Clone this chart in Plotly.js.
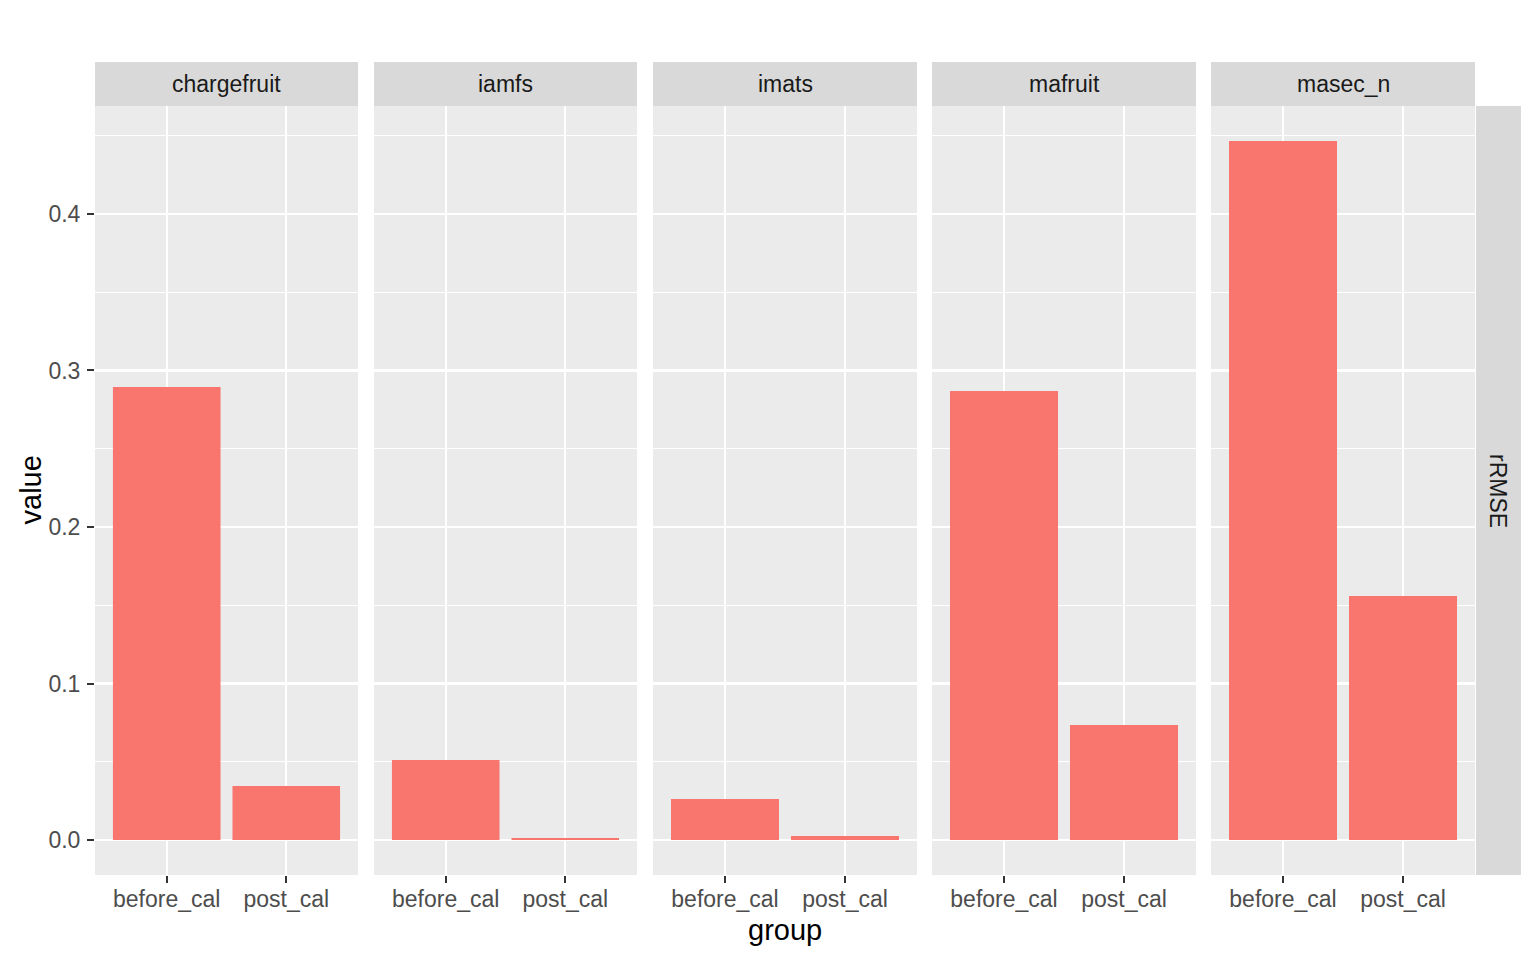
<!DOCTYPE html>
<html>
<head>
<meta charset="utf-8">
<script src="https://cdn.plot.ly/plotly-3.0.1.min.js"></script>
<style>html,body{margin:0;padding:0;background:#fff;}#chart{width:1536px;height:960px;}</style>
</head>
<body>
<div id="chart"></div>
<script>
const facets = ['chargefruit', 'iamfs', 'imats', 'mafruit', 'masec_n'];
const groups = ['before_cal', 'post_cal'];
const beforeCal = [0.2894, 0.0511, 0.0262, 0.2869, 0.4466];
const postCal = [0.0345, 0.0013, 0.0026, 0.0735, 0.1559];
const rowLabel = 'rRMSE';
const yTickVals = [0.0, 0.1, 0.2, 0.3, 0.4];
const yTickText = ['0.0', '0.1', '0.2', '0.3', '0.4'];

const W = 1536, H = 960;
const M = {l: 95, r: 61, t: 106, b: 85};
const PW = W - M.l - M.r, PH = H - M.t - M.b;
const panelPx = [[95, 358], [374, 637], [653, 917], [932, 1196], [1211, 1475]];
const domains = panelPx.map(p => [(p[0] - M.l) / PW, (p[1] - M.l) / PW]);

const FONT = 'Liberation Sans, Arial, Helvetica, sans-serif';
const BAR = '#F8766D';
const TICKSIZE = 23;
const TITLESIZE = 29;

const traces = facets.map((f, i) => ({
  type: 'bar',
  x: groups,
  y: [beforeCal[i], postCal[i]],
  xaxis: i === 0 ? 'x' : 'x' + (i + 1),
  yaxis: 'y',
  width: 0.9,
  marker: {color: BAR, line: {width: 0}},
  hoverinfo: 'x+y',
  showlegend: false
}));

const yMax = Math.max(...beforeCal, ...postCal);
const yRange = [-0.05 * yMax, yMax * 1.05];

const layout = {
  width: W, height: H,
  margin: M,
  paper_bgcolor: '#FFFFFF',
  plot_bgcolor: '#EBEBEB',
  showlegend: false,
  font: {family: FONT, size: TICKSIZE, color: '#4D4D4D'},
  yaxis: {
    range: yRange,
    anchor: 'x',
    tickvals: yTickVals,
    ticktext: yTickText,
    ticks: 'outside', ticklen: 7, tickwidth: 2, tickcolor: '#333333',
    tickfont: {family: FONT, size: TICKSIZE, color: '#4D4D4D'},
    ticklabelstandoff: 2,
    showgrid: true, gridcolor: '#FFFFFF', gridwidth: 2.2,
    minor: {dtick: 0.05, tick0: 0.05, showgrid: true, gridcolor: '#FFFFFF', gridwidth: 1.1, ticks: ''},
    zeroline: false, showline: false
  },
  shapes: [],
  annotations: []
};

facets.forEach((f, i) => {
  const key = i === 0 ? 'xaxis' : 'xaxis' + (i + 1);
  layout[key] = {
    domain: domains[i],
    anchor: 'y',
    type: 'category',
    range: [-0.6, 1.6],
    ticks: 'outside', ticklen: 7, tickwidth: 2, tickcolor: '#333333',
    tickfont: {family: FONT, size: TICKSIZE, color: '#4D4D4D'},
    ticklabelstandoff: -4,
    showgrid: true, gridcolor: '#FFFFFF', gridwidth: 2.2,
    zeroline: false, showline: false
  };
  layout.shapes.push({
    type: 'rect', xref: 'paper', yref: 'paper',
    x0: domains[i][0], x1: domains[i][1],
    y0: 1, y1: 1 + 44 / PH,
    fillcolor: '#D9D9D9', line: {width: 0}, layer: 'below'
  });
  layout.annotations.push({
    xref: 'paper', yref: 'paper',
    x: (domains[i][0] + domains[i][1]) / 2, y: 1 + 22 / PH,
    xanchor: 'center', yanchor: 'middle',
    text: f, showarrow: false,
    font: {family: FONT, size: TICKSIZE, color: '#1A1A1A'}
  });
});

// right strip
layout.shapes.push({
  type: 'rect', xref: 'paper', yref: 'paper',
  x0: 1 + 1 / PW, x1: 1 + 46 / PW, y0: 0, y1: 1,
  fillcolor: '#D9D9D9', line: {width: 0}, layer: 'below'
});
layout.annotations.push({
  xref: 'paper', yref: 'paper',
  x: 1 + 23.5 / PW, y: 0.5,
  xanchor: 'center', yanchor: 'middle',
  text: rowLabel, textangle: 90, showarrow: false,
  font: {family: FONT, size: TICKSIZE, color: '#1A1A1A'}
});
// axis titles
layout.annotations.push({
  xref: 'paper', yref: 'paper',
  x: 0.5, y: -(930 - (H - M.b)) / PH,
  xanchor: 'center', yanchor: 'middle',
  text: 'group', showarrow: false,
  font: {family: FONT, size: TITLESIZE, color: '#000000'}
});
layout.annotations.push({
  xref: 'paper', yref: 'paper',
  x: (30 - M.l) / PW, y: 0.5,
  xanchor: 'center', yanchor: 'middle',
  text: 'value', textangle: -90, showarrow: false,
  font: {family: FONT, size: TITLESIZE, color: '#000000'}
});

Plotly.newPlot('chart', traces, layout, {staticPlot: true, displayModeBar: false});
</script>
</body>
</html>
